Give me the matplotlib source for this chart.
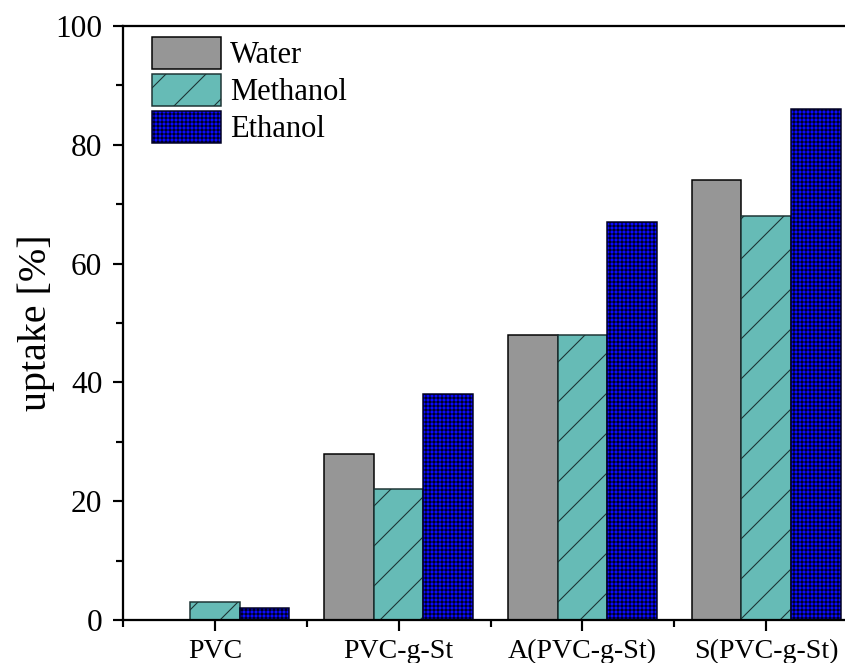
import numpy as np
import matplotlib
matplotlib.use("Agg")
import matplotlib.pyplot as plt
from matplotlib.ticker import MultipleLocator, FixedLocator

# data
samples = ['PVC', 'PVC-g-St', 'A(PVC-g-St)', 'S(PVC-g-St)']
water = [0, 28, 48, 74]
methanol = [3, 22, 48, 68]
ethanol = [2, 38, 67, 86]

plt.rcParams['font.family'] = ['Liberation Serif', 'DejaVu Serif']
plt.rcParams['hatch.linewidth'] = 0.65

# dpi 120 so the hatch grid lands on whole pixels (845x663 output)
DPI = 120
fig = plt.figure(figsize=(845 / DPI, 663 / DPI), dpi=DPI)
ax = fig.add_axes([123 / 845, 43 / 663, 735 / 845, 594 / 663])

x = np.arange(len(samples))
w = 0.27
ax.bar(x - w, water, w, color='#969696', edgecolor='black', linewidth=0.9, label='Water')
ax.bar(x, methanol, w, color='#66bbb6', edgecolor='#1c3333', linewidth=0.9,
       hatch='/', label='Methanol')
ax.bar(x + w, ethanol, w, color='#0a0aff', edgecolor='#000022', linewidth=0.9,
       hatch='+++++', label='Ethanol')

ax.set_xlim(-0.5, 3.5)
ax.set_ylim(0, 100)
ax.set_xticks(x)
ax.set_xticklabels(samples, fontsize=16.7)
ax.xaxis.set_minor_locator(FixedLocator(np.arange(-0.5, 4, 1.0)))
ax.yaxis.set_major_locator(MultipleLocator(20))
ax.yaxis.set_minor_locator(MultipleLocator(10))
ax.tick_params(axis='y', labelsize=18.8, pad=6)
ax.tick_params(axis='x', pad=5)
ax.tick_params(which='major', length=6.3, width=1.3, direction='out')
ax.tick_params(which='minor', length=4, width=1.3, direction='out')
ax.set_ylabel('uptake [%]', fontsize=24, labelpad=0)

for s in ax.spines.values():
    s.set_linewidth(1.35)

ax.legend(loc='upper left', bbox_to_anchor=(0.04, 0.982), frameon=False,
          fontsize=18.3, handlelength=2.25, handleheight=1.25,
          labelspacing=0.12, handletextpad=0.3, borderpad=0, borderaxespad=0)

fig.savefig('out.png', dpi=DPI)
